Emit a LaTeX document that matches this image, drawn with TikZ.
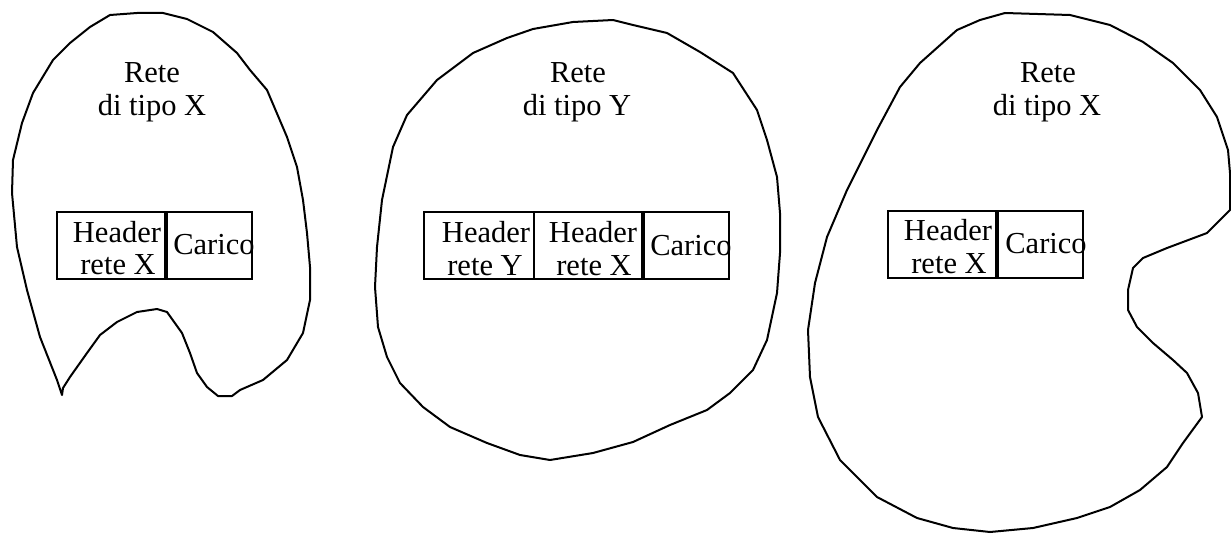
\documentclass[tikz,border=0pt]{standalone}
\usepackage{fontspec}
\setmainfont{Liberation Serif}
\begin{document}
\begin{tikzpicture}[x=1pt,y=-1pt,
  blob/.style={draw=black,line width=2pt,line join=round},
  cell/.style={draw=black,line width=2pt,rectangle,inner sep=0pt,outer sep=0pt,anchor=north west,minimum height=67pt},
  txt/.style={font=\fontsize{30.5}{33}\selectfont,anchor=base,inner sep=0pt}]
\useasboundingbox (0,0) rectangle (1231,535);
% blob 1
\draw[blob] (110,15)--(137,13)--(163,13)--(187,19)--(213,32)--(237,53)--(250,70)--(267,90)--(287,137)--(297,167)--(303,200)--(307,233)--(310,267)--(310,300)--(303,333)--(287,360)--(263,380)--(240,390)--(232,396)--(218,396)--(207,387)--(197,373)--(190,353)--(182,333)--(167,312)--(157,309)--(137,312)--(117,322)--(100,335)--(87,353)--(70,377)--(63,388)--(62,395)--(57,380)--(40,337)--(27,290)--(17,247)--(12,193)--(13,160)--(22,123)--(33,93)--(53,60)--(70,43)--(90,27)--cycle;
% blob 2
\draw[blob] (437,80)--(473,53)--(507,38)--(533,29)--(573,22)--(613,20)--(633,25)--(667,33)--(700,52)--(733,73)--(757,110)--(767,140)--(777,177)--(780,213)--(780,253)--(777,293)--(767,340)--(753,370)--(730,393)--(707,410)--(670,425)--(633,442)--(593,453)--(550,460)--(520,455)--(487,443)--(450,427)--(423,407)--(400,383)--(387,357)--(378,327)--(375,287)--(377,247)--(382,200)--(393,147)--(407,115)--cycle;
% blob 3
\draw[blob] (1005,13)--(1070,15)--(1110,25)--(1143,42)--(1173,63)--(1200,90)--(1217,117)--(1228,150)--(1230,173)--(1230,210)--(1207,233)--(1167,248)--(1143,258)--(1133,268)--(1128,290)--(1128,310)--(1137,327)--(1153,343)--(1173,360)--(1187,373)--(1198,393)--(1202,417)--(1183,443)--(1167,467)--(1140,490)--(1110,507)--(1077,518)--(1033,528)--(990,532)--(953,528)--(917,518)--(877,497)--(840,460)--(818,417)--(810,377)--(808,330)--(815,283)--(827,237)--(847,190)--(877,130)--(900,87)--(920,63)--(957,30)--(980,20)--cycle;
% titles
\node[txt] (t1a) at (152,82) {Rete};
\node[txt] (t1b) at (152,115) {di tipo X};
\node[txt] (t2a) at (578,82) {Rete};
\node[txt] (t2b) at (577,115) {di tipo Y};
\node[txt] (t3a) at (1048,82) {Rete};
\node[txt] (t3b) at (1047,115) {di tipo X};
% boxes blob 1
\node[cell,minimum width=108pt] (h1) at (57,212) {};
\node[cell,minimum width=85pt] (c1) at (167,212) {};
\node[txt] (h1a) at (117,242) {Header};
\node[txt] (h1b) at (118,274) {rete X};
\node[txt] (c1a) at (214,254) {Carico};
% boxes blob 2
\node[cell,minimum width=110pt] (h2y) at (424,212) {};
\node[cell,minimum width=108pt] (h2x) at (534,212) {};
\node[cell,minimum width=85pt] (c2) at (644,212) {};
\node[txt] (h2ya) at (486,242) {Header};
\node[txt] (h2yb) at (485,275) {rete Y};
\node[txt] (h2xa) at (593,242) {Header};
\node[txt] (h2xb) at (594,275) {rete X};
\node[txt] (c2a) at (691,255) {Carico};
% boxes blob 3
\node[cell,minimum width=108pt] (h3) at (888,211) {};
\node[cell,minimum width=85pt] (c3) at (998,211) {};
\node[txt] (h3a) at (948,240) {Header};
\node[txt] (h3b) at (949,273) {rete X};
\node[txt] (c3a) at (1046,253) {Carico};
\end{tikzpicture}
\end{document}
